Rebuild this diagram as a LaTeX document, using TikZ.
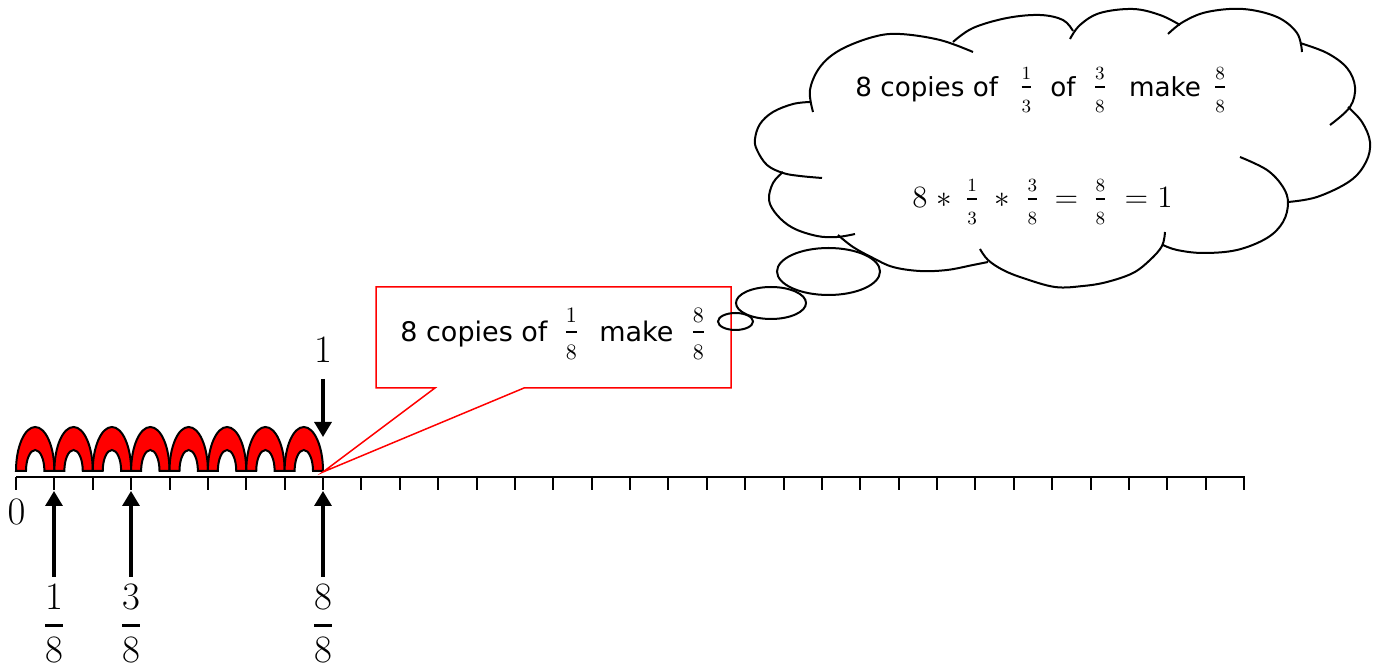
\RequirePackage{fix-cm}
\documentclass[tikz,border=0pt]{standalone}
\usepackage{amsmath}
\usepackage{fontspec}
\newfontfamily\vfont{DejaVu Sans}
\usetikzlibrary{arrows.meta}
% \fr[thickness]{num}{den}{size}{raise}{denominator strut}
\newcommand\fr[6][0.9pt]{\raisebox{#5}{\fontsize{#4}{#4}\selectfont$\genfrac{}{}{#1}{0}{#2}{\rule{0pt}{#6}#3}$}}
\tikzset{
  axisline/.style={line width=1pt,black},
  tickline/.style={line width=1pt,black},
  archshape/.style={draw=black,fill=red,line width=1pt},
  arr/.style={line width=1.6pt,-{Triangle[length=7.5pt,width=8.5pt]}},
  cl/.style={line width=1pt,black},
  callout/.style={draw=red,fill=white,line width=0.75pt},
  bigmath/.style={inner sep=0pt,anchor=base,font=\fontsize{19.4pt}{22pt}\selectfont},
  vtext/.style={inner sep=0pt,anchor=base west}
}
\begin{document}
\begin{tikzpicture}[x=0.5pt,y=-0.5pt]
\useasboundingbox (0,0) rectangle (1377,667);

% number line
\coordinate (L0) at (16,477.5);
\coordinate (L1) at (1245,477.5);
\draw[axisline] (L0) -- (L1);
\foreach \i in {0,...,32} \draw[tickline] ({16+38.375*\i},477.5) -- ++(0,13);

% arches
\foreach \i in {0,...,7} {
  \pgfmathsetmacro\c{16+38.375*(\i+0.5)}
  \draw[archshape] (\c-19.19,471) arc[start angle=180,end angle=0,x radius=9.6pt,y radius=22pt]
     -- (\c+9.2,471) arc[start angle=0,end angle=180,x radius=4.6pt,y radius=10.5pt] -- cycle;
}

% labels and arrows
\node[bigmath] (one) at (323,363) {$1$};
\coordinate (d1) at (323,379);
\coordinate (d2) at (323,437);
\draw[arr] (d1) -- (d2);
\node[bigmath] (zero) at (16.5,525) {$0$};

\node[bigmath] (f1) at (54,635.5) {\fr[1.4pt]{1}{8}{19.4pt}{0pt}{0pt}};
\node[bigmath] (f3) at (131,635.5) {\fr[1.4pt]{3}{8}{19.4pt}{0pt}{0pt}};
\node[bigmath] (f8) at (323,635.5) {\fr[1.4pt]{8}{8}{19.4pt}{0pt}{0pt}};
\coordinate (u1a) at (54,577);  \coordinate (u1b) at (54,491);
\coordinate (u3a) at (131,577); \coordinate (u3b) at (131,491);
\coordinate (u8a) at (323,577); \coordinate (u8b) at (323,491);
\draw[arr] (u1a) -- (u1b);
\draw[arr] (u3a) -- (u3b);
\draw[arr] (u8a) -- (u8b);

% callout
\coordinate (tip) at (323,472);
\draw[callout] (376,287) -- (731,287) -- (731,388) -- (524,388) -- (tip) -- (435,388) -- (376,388) -- cycle;
\node[vtext,font=\vfont\fontsize{13.5pt}{16pt}\selectfont] (ctext) at (400,342)
  {8 copies of\hspace{8pt}\fr{1}{8}{11pt}{2.25pt}{10.5pt}\hspace{10pt}make\hspace{8.5pt}\fr{8}{8}{11pt}{2.25pt}{10.5pt}};

% thought bubbles
\draw[cl] (828.5,271.5) ellipse [x radius=25.75pt, y radius=11.75pt];
\draw[cl] (771,303) ellipse [x radius=17.5pt, y radius=8pt];
\draw[cl] (735.5,321.5) ellipse [x radius=8.75pt, y radius=4.25pt];

% cloud lobes
\draw[cl] plot[smooth,tension=0.6] coordinates {(813,112) (810,90) (820,67) (840,50) (873,37) (900,34) (940,40) (973,52)};
\draw[cl] plot[smooth,tension=0.6] coordinates {(953,42) (973,28) (1007,18) (1040,15) (1063,20) (1073,31)};
\draw[cl] plot[smooth,tension=0.6] coordinates {(1070,39) (1080,25) (1100,13) (1133,9) (1160,15) (1180,25)};
\draw[cl] plot[smooth,tension=0.6] coordinates {(1168,34) (1183,22) (1207,12) (1243,9) (1277,17) (1297,33) (1302,52)};
\draw[cl] plot[smooth,tension=0.6] coordinates {(1300,43) (1327,53) (1347,68) (1355,87) (1350,107) (1330,125)};
\draw[cl] plot[smooth,tension=0.6] coordinates {(1348,107) (1362,122) (1370,142) (1366,162) (1350,181) (1317,197) (1288,202)};
\draw[cl] plot[smooth,tension=0.6] coordinates {(1240,157) (1267,170) (1283,187) (1288,203) (1283,222) (1267,238) (1237,250) (1203,253) (1177,250) (1163,245)};
\draw[cl] plot[smooth,tension=0.6] coordinates {(1165,232) (1162,246) (1150,260) (1133,273) (1107,282) (1083,286) (1055,287) (1023,278) (1003,270) (988,260) (980,249)};
\draw[cl] plot[smooth,tension=0.6] coordinates {(988,262) (973,265) (947,270) (920,271) (893,267) (873,258) (853,247) (838,235)};
\draw[cl] plot[smooth,tension=0.6] coordinates {(855,234) (837,237) (817,236) (793,228) (777,215) (769,200) (773,183) (783,172)};
\draw[cl] plot[smooth,tension=0.6] coordinates {(822,178) (800,176) (783,173) (767,165) (757,150) (755,139) (760,124) (773,112) (793,104) (810,102)};

% cloud text
\node[vtext,font=\vfont\fontsize{13.1pt}{16pt}\selectfont] (t1) at (855,97)
  {8 copies of\hspace{10.5pt}\fr{1}{3}{9.3pt}{2.7pt}{9.5pt}\hspace{8.5pt}of\hspace{8.5pt}\fr{3}{8}{9.3pt}{2.7pt}{9.5pt}\hspace{11pt}make\hspace{6pt}\fr{8}{8}{9.3pt}{2.7pt}{9.5pt}};
\node[vtext,font=\fontsize{15.5pt}{18pt}\selectfont] (t2) at (912,208)
  {$8$\hspace{4.4pt}$\ast$\hspace{6.6pt}\fr{1}{3}{9.3pt}{2.2pt}{9.5pt}\hspace{7.6pt}$\ast$\hspace{7.6pt}\fr{3}{8}{9.3pt}{2.2pt}{9.5pt}\hspace{7.5pt}$=$\hspace{7.5pt}\fr{8}{8}{9.3pt}{2.2pt}{9.5pt}\hspace{8.5pt}$=$\hspace{4.5pt}$1$};
\end{tikzpicture}
\end{document}
